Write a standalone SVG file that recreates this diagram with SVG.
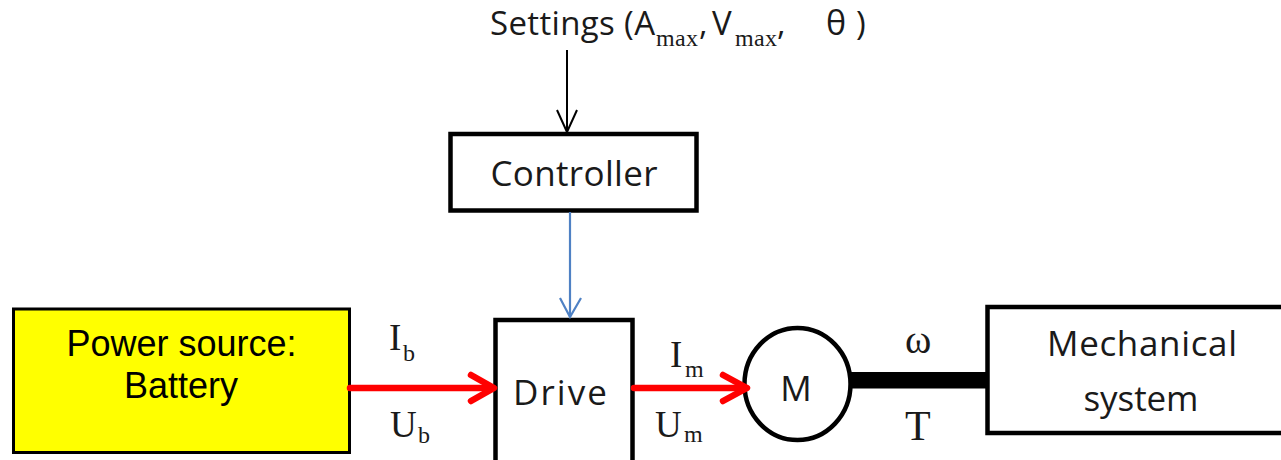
<svg xmlns="http://www.w3.org/2000/svg" width="1281" height="460" viewBox="0 0 1281 460">
  <defs>
    <style>
      .box { fill: #ffffff; stroke: #000000; stroke-width: 4.5; }
      .src { fill: #ffff00; stroke: #000000; stroke-width: 3; }
      .sans { font-family: "Open Sans", "Noto Sans", sans-serif; fill: #1a1a1a; }
      .arial { font-family: "Liberation Sans", Arial, sans-serif; fill: #000000; }
      .serif { font-family: "Liberation Serif", "Times New Roman", serif; fill: #1a1a1a; }
      .power { stroke: #ff0000; stroke-width: 6.5; fill: none; stroke-linecap: round; stroke-linejoin: round; }
      .signal { stroke: #000000; stroke-width: 2; fill: none; }
      .cmd { stroke: #4f81c4; stroke-width: 2.2; fill: none; }
    </style>
  </defs>
  <rect width="1281" height="460" fill="#ffffff"/>

  <!-- settings input label -->
  <g id="settings">
    <text class="sans" font-size="33" x="490" y="35" textLength="165" lengthAdjust="spacing">Settings (A</text>
    <text class="serif" font-size="24" x="656" y="46" textLength="42" lengthAdjust="spacing">max</text>
    <text class="sans" font-size="33" x="699" y="35">,</text>
    <text class="sans" font-size="33" x="712" y="35">V</text>
    <text class="serif" font-size="24" x="735" y="46" textLength="42" lengthAdjust="spacing">max</text>
    <text class="sans" font-size="33" x="777" y="35">,</text>
    <text class="sans" font-size="34" x="826" y="35">θ</text>
    <text class="sans" font-size="33" x="856" y="35">)</text>
  </g>

  <g id="controller">
    <rect class="box" x="450.5" y="134" width="246" height="76.5"/>
    <text class="sans" font-size="35" x="574" y="186" text-anchor="middle" textLength="167" lengthAdjust="spacing">Controller</text>
  </g>

  <g id="power-source">
    <rect class="src" x="13.5" y="309" width="336" height="143.5"/>
    <text class="arial" font-size="36" x="181.5" y="356" text-anchor="middle">Power source:</text>
    <text class="arial" font-size="36" x="181" y="398" text-anchor="middle">Battery</text>
  </g>

  <g id="drive">
    <rect class="box" x="495.5" y="320" width="137" height="160"/>
    <text class="sans" font-size="35" x="560" y="405" text-anchor="middle" textLength="94" lengthAdjust="spacing">Drive</text>
  </g>

  <g id="motor">
    <ellipse cx="797.5" cy="384" rx="53" ry="56" fill="#ffffff" stroke="#000000" stroke-width="4.5"/>
    <text class="sans" font-size="35" x="796" y="401" text-anchor="middle">M</text>
  </g>

  <g id="mechanical-system">
    <rect class="box" x="987.5" y="307" width="320" height="126"/>
    <text class="sans" font-size="35" x="1142" y="356" text-anchor="middle" textLength="190" lengthAdjust="spacing">Mechanical</text>
    <text class="sans" font-size="35" x="1141" y="411" text-anchor="middle" textLength="115" lengthAdjust="spacing">system</text>
  </g>

  <g id="connectors">
    <!-- settings to controller -->
    <line class="signal" x1="567" y1="50" x2="567" y2="132"/>
    <polyline class="signal" points="557,110 567,132 577,110"/>
    <!-- controller to drive -->
    <line class="cmd" x1="570" y1="212" x2="570" y2="317"/>
    <polyline class="cmd" points="560,298 570,317 581,298"/>
    <!-- battery to drive -->
    <line class="power" x1="350" y1="388" x2="492" y2="388"/>
    <polyline class="power" points="471,375 494,388 471,401"/>
    <!-- drive to motor -->
    <line class="power" x1="634" y1="388" x2="746" y2="388"/>
    <polyline class="power" points="723,375 747,388 723,401"/>
    <!-- shaft -->
    <rect x="849" y="372" width="139" height="16.5" fill="#000000"/>
  </g>

  <g id="labels">
    <text class="serif" font-size="37" x="389" y="350">I</text>
    <text class="serif" font-size="24" x="403" y="361">b</text>
    <text class="serif" font-size="37" x="390" y="437">U</text>
    <text class="serif" font-size="24" x="418" y="443">b</text>
    <text class="serif" font-size="37" x="670" y="367">I</text>
    <text class="serif" font-size="24" x="685" y="377">m</text>
    <text class="serif" font-size="37" x="655" y="437">U</text>
    <text class="serif" font-size="24" x="684" y="442">m</text>
    <text class="serif" font-size="40" x="905" y="353">ω</text>
    <text class="serif" font-size="42" x="905" y="440">T</text>
  </g>
</svg>
